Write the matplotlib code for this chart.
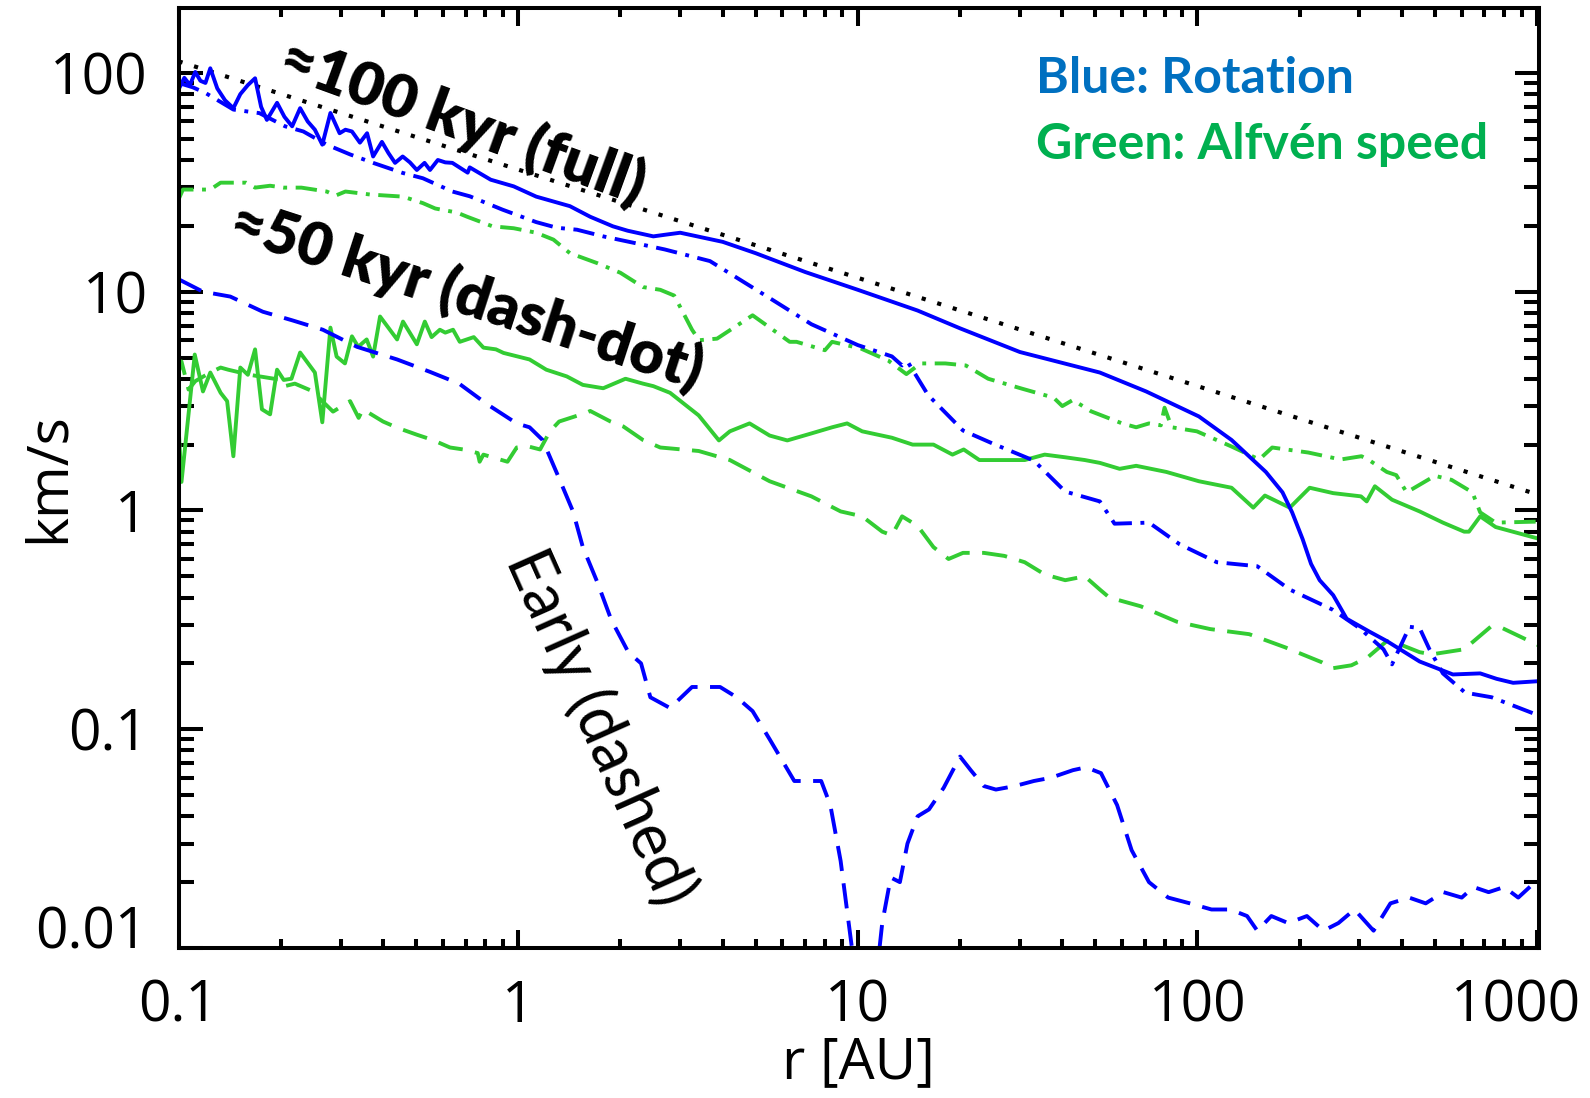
import matplotlib
matplotlib.use("Agg")
import matplotlib.pyplot as plt
from matplotlib.transforms import ScaledTranslation

# ---- data ----
dotted_r = [0.1, 1100]
dotted_v = [113, 1.13]

blue_full_r = [0.1, 0.104, 0.108, 0.112, 0.116, 0.12, 0.124, 0.13, 0.137, 0.145, 0.152, 0.16,
               0.168, 0.175, 0.182, 0.195, 0.205, 0.216, 0.228, 0.24, 0.252, 0.265, 0.28, 0.298,
               0.31, 0.324, 0.342, 0.359, 0.374, 0.397, 0.415, 0.434, 0.457, 0.48, 0.503, 0.53,
               0.55, 0.58, 0.61, 0.64, 0.71, 0.72, 0.83, 0.97, 1.13, 1.42, 1.63, 1.9, 2.1, 2.5,
               2.7, 3.0, 4.0, 5.0, 7.0, 10, 15, 20, 30, 51.6, 70.6, 101, 126, 159, 178, 190, 204,
               216, 229, 251, 275, 320, 361, 451, 565, 680, 760, 850, 1020]
blue_full_v = [84, 95, 88, 101, 92, 90, 105, 85, 75, 69, 80, 88, 94.5, 70, 61, 73, 63, 57, 69,
               60, 55, 47, 65.6, 53, 55, 54, 48, 53, 41.5, 48.4, 43, 38.8, 41.5, 39, 36, 38.8, 36,
               40, 39, 38.8, 35, 37, 32.5, 30.3, 27.2, 24.6, 22.0, 19.9, 19, 17.9, 18.2, 18.6,
               16.9, 15, 12.3, 10.2, 8.2, 6.8, 5.3, 4.27, 3.5, 2.69, 2.1, 1.5, 1.21, 0.98, 0.74,
               0.57, 0.48, 0.41, 0.32, 0.28, 0.253, 0.204, 0.178, 0.18, 0.17, 0.163, 0.166]

blue_mid_r = [0.1, 0.11, 0.12, 0.145, 0.173, 0.206, 0.233, 0.273, 0.32, 0.374, 0.457, 0.524,
              0.64, 0.72, 0.9, 1.13, 1.3, 1.49, 1.78, 2.2, 2.7, 3.67, 5.53, 7.3, 10, 12.6, 13.5,
              14.0, 16.1, 20.4, 25, 33, 40.8, 51.6, 57, 72, 88.7, 114, 150, 187, 250, 300, 353,
              374, 421, 451, 482, 528, 614, 735, 1020]
blue_mid_v = [90, 86, 81, 68, 65.5, 57, 54, 47, 42.4, 38.8, 34.9, 33, 28.7, 27.3, 23.7, 20.8,
              19.6, 19.2, 17.9, 16.7, 15.6, 13.8, 9.3, 7.1, 5.7, 5.06, 4.6, 4.8, 3.37, 2.32, 2.02,
              1.69, 1.22, 1.10, 0.87, 0.88, 0.70, 0.58, 0.556, 0.435, 0.352, 0.29, 0.232, 0.198,
              0.294, 0.29, 0.232, 0.18, 0.147, 0.14, 0.115]

blue_early_r = [0.1, 0.118, 0.142, 0.177, 0.216, 0.266, 0.335, 0.44, 0.55, 0.67, 0.81, 0.99,
                1.08, 1.18, 1.31, 1.45, 1.55, 1.71, 1.88, 2.11, 2.3, 2.45, 2.8, 3.25, 3.93, 4.4,
                4.9, 5.5, 6.5, 7.8, 8.3, 8.9, 9.4, 9.9, 11.3, 11.8, 12.5, 13.3, 14.0, 15.0, 16.2,
                17.9, 20.0, 21.5, 23.5, 25.5, 29, 33, 37, 43, 47, 52, 58, 64, 72, 82, 95, 110,
                125, 140, 150, 165, 185, 210, 235, 260, 290, 330, 370, 420, 470, 530, 600, 650,
                720, 800, 880, 1020]
blue_early_v = [11.4, 10, 9.5, 8.1, 7.4, 6.7, 5.6, 4.9, 4.3, 3.8, 3.06, 2.5, 2.4, 2.1, 1.44,
                0.99, 0.68, 0.47, 0.316, 0.225, 0.2, 0.14, 0.125, 0.156, 0.156, 0.14, 0.121,
                0.09, 0.058, 0.058, 0.045, 0.025, 0.013, 0.007, 0.007, 0.013, 0.021, 0.02, 0.03,
                0.04, 0.043, 0.054, 0.075, 0.065, 0.055, 0.053, 0.055, 0.058, 0.06, 0.065, 0.067,
                0.063, 0.045, 0.028, 0.02, 0.017, 0.016, 0.015, 0.015, 0.014, 0.012, 0.014,
                0.013, 0.014, 0.012, 0.013, 0.015, 0.012, 0.016, 0.017, 0.016, 0.018, 0.017,
                0.019, 0.018, 0.019, 0.017, 0.021]

green_full_r = [0.1, 0.102, 0.1116, 0.118, 0.124, 0.133, 0.139, 0.145, 0.152, 0.16, 0.168,
                0.176, 0.186, 0.195, 0.204, 0.215, 0.228, 0.252, 0.265, 0.28, 0.292, 0.309,
                0.324, 0.338, 0.358, 0.374, 0.392, 0.44, 0.458, 0.503, 0.531, 0.556, 0.588,
                0.61, 0.643, 0.673, 0.74, 0.79, 0.86, 0.905, 1.08, 1.21, 1.39, 1.55, 1.78, 2.07,
                2.33, 2.5, 2.8, 3.4, 3.9, 4.2, 4.8, 5.5, 6.2, 7.3, 8.4, 9.3, 10.3, 12.6, 14.5,
                16.7, 19, 20.5, 22.8, 27, 31, 35.5, 40.8, 46.6, 51.6, 59, 66, 81, 101, 126, 146,
                158, 187, 214, 251, 303, 315, 333, 374, 451, 528, 610, 630, 680, 755, 1020]
green_full_v = [2.42, 1.35, 5.16, 3.5, 4.27, 3.45, 3.16, 1.77, 4.5, 4.17, 5.45, 2.9, 2.75,
                4.4, 3.95, 4.0, 5.27, 4.27, 2.53, 6.85, 5.05, 4.7, 6.25, 5.6, 6.05, 5.05, 7.7,
                6.05, 7.3, 5.75, 7.3, 6.2, 6.7, 6.5, 6.7, 5.9, 6.2, 5.55, 5.45, 5.25, 4.9, 4.4,
                4.1, 3.75, 3.62, 4.0, 3.8, 3.7, 3.45, 2.72, 2.09, 2.3, 2.5, 2.2, 2.09, 2.25, 2.4,
                2.5, 2.3, 2.15, 2.0, 2.0, 1.8, 1.9, 1.7, 1.7, 1.7, 1.8, 1.75, 1.7, 1.65, 1.55,
                1.6, 1.5, 1.36, 1.27, 1.03, 1.17, 1.03, 1.27, 1.2, 1.16, 1.1, 1.29, 1.12, 0.99,
                0.88, 0.8, 0.8, 0.94, 0.84, 0.74]

green_mid_r = [0.1, 0.103, 0.124, 0.133, 0.158, 0.168, 0.186, 0.204, 0.23, 0.273, 0.29, 0.31,
               0.367, 0.458, 0.524, 0.57, 0.66, 0.708, 0.84, 0.97, 1.13, 1.27, 1.42, 1.71, 2.0,
               2.33, 2.62, 2.88, 3.25, 3.41, 3.85, 4.9, 6.3, 6.6, 8.0, 8.4, 10.2, 12.3, 13.9,
               15.3, 18.1, 20.8, 24.2, 30.5, 37.7, 40, 43, 48.6, 60, 66, 72, 78, 80, 84, 99.6,
               126, 152, 166, 212, 264, 304, 320, 361, 385, 413, 500, 560, 645, 680, 755, 1020]
green_mid_v = [26.4, 29.3, 29.3, 31.5, 31.5, 29.9, 30.5, 29.9, 29.9, 28.7, 27.5, 28.7, 27.8,
               27.2, 25.4, 24, 23, 22, 19.9, 19.5, 18.6, 17.3, 15, 13.5, 12.2, 10.5, 10.2, 9.6,
               6.7, 6.0, 6.1, 7.8, 5.9, 5.9, 5.4, 5.9, 5.5, 4.84, 4.2, 4.7, 4.7, 4.6, 4.0, 3.6,
               3.28, 3.0, 3.2, 2.84, 2.5, 2.4, 2.5, 2.45, 2.95, 2.4, 2.3, 1.96, 1.71, 1.94,
               1.84, 1.71, 1.77, 1.7, 1.5, 1.45, 1.21, 1.44, 1.38, 1.21, 0.98, 0.88, 0.89]

green_early_r = [0.1, 0.102, 0.107, 0.112, 0.124, 0.133, 0.14, 0.162, 0.199, 0.204, 0.22,
                 0.249, 0.265, 0.285, 0.32, 0.339, 0.349, 0.4, 0.44, 0.503, 0.56, 0.63, 0.69,
                 0.76, 0.77, 0.79, 0.93, 0.99, 1.06, 1.16, 1.24, 1.32, 1.59, 1.63, 1.87, 2.04,
                 2.33, 2.62, 3.4, 4.2, 5.5, 7.3, 8.9, 10.3, 11.8, 12.6, 13.5, 15, 16.7, 18.5,
                 20.4, 23.5, 27, 31, 35.5, 40.8, 46.6, 51.6, 55, 68, 87, 109, 142, 181, 233, 250,
                 284, 317, 361, 380, 451, 490, 610, 730, 790, 1020]
green_early_v = [4.27, 4.8, 3.57, 3.9, 4.27, 4.5, 4.4, 4.17, 3.96, 3.69, 3.8, 3.5, 3.16, 2.83,
                 3.16, 2.65, 2.9, 2.55, 2.39, 2.22, 2.1, 1.94, 1.9, 1.83, 1.67, 1.8, 1.67, 1.94,
                 1.97, 1.9, 2.3, 2.55, 2.8, 2.85, 2.55, 2.42, 2.1, 1.94, 1.87, 1.7, 1.36, 1.16,
                 0.99, 0.94, 0.8, 0.77, 0.94, 0.85, 0.68, 0.6, 0.64, 0.64, 0.62, 0.58, 0.51,
                 0.48, 0.5, 0.435, 0.40, 0.365, 0.31, 0.287, 0.272, 0.237, 0.202, 0.19, 0.196,
                 0.213, 0.253, 0.25, 0.225, 0.22, 0.232, 0.294, 0.29, 0.24]

x_ticks = [0.1, 1, 10, 100, 1000]
x_tick_labels = ["0.1", "1", "10", "100", "1000"]
y_ticks = [0.01, 0.1, 1, 10, 100]
y_tick_labels = ["0.01", "0.1", "1", "10", "100"]

BLUE = "#0000ff"
GREEN = "#33cc33"
LW = 2.8
DASHED = (0, (6.5, 3.2))
DASHDOT = (0, (5.5, 2.2, 1.0, 2.2))

fig = plt.figure(figsize=(15.9, 10.98), dpi=100)
ax = fig.add_axes([0.1123, 0.1366, 0.8558, 0.8561])

ax.plot(dotted_r, dotted_v, color="black", lw=3.0, linestyle=(0, (1.0, 2.9)))
ax.plot(green_early_r, green_early_v, color=GREEN, lw=LW, linestyle=DASHED)
ax.plot(green_mid_r, green_mid_v, color=GREEN, lw=LW, linestyle=DASHDOT)
ax.plot(green_full_r, green_full_v, color=GREEN, lw=LW)
ax.plot(blue_early_r, blue_early_v, color=BLUE, lw=LW, linestyle=DASHED)
ax.plot(blue_mid_r, blue_mid_v, color=BLUE, lw=LW, linestyle=DASHDOT)
ax.plot(blue_full_r, blue_full_v, color=BLUE, lw=LW)

ax.set_xscale("log")
ax.set_yscale("log")
ax.set_xlim(0.1, 1015)
ax.set_ylim(0.01, 198)

tick_font = {"family": ["Open Sans", "DejaVu Sans"], "size": 41}
ax.set_xticks(x_ticks)
ax.set_xticklabels(x_tick_labels, fontdict=tick_font)
ax.set_yticks(y_ticks)
ax.set_yticklabels(y_tick_labels, fontdict=tick_font)

for s in ax.spines.values():
    s.set_linewidth(2.9)
ax.tick_params(which="both", direction="in", top=True, right=True, width=2.9)
ax.tick_params(axis="x", which="major", length=13, pad=22)
ax.tick_params(axis="x", which="minor", length=6.5)
ax.tick_params(axis="y", which="major", length=17, pad=22)
ax.tick_params(axis="y", which="minor", length=10.5)

# lowest y label sits on the axis, last x label pulled inside the figure
ax.get_yticklabels()[0].set_va("baseline")
last = ax.get_xticklabels()[-1]
last.set_transform(last.get_transform() + ScaledTranslation(-0.21, 0, fig.dpi_scale_trans))

ax.text(0.5, -0.138, "r [AU]", transform=ax.transAxes, ha="center", va="baseline",
        **tick_font)
ax.text(-0.0842, 0.5, "km/s", transform=ax.transAxes, rotation=90, rotation_mode="anchor",
        ha="center", va="baseline", **tick_font)

note_font = ["Lato", "DejaVu Sans"]
ax.text(0.2086, 0.879, "\u2248100 kyr (full)", transform=ax.transAxes, rotation=-20,
        rotation_mode="anchor", ha="center", va="center", family=note_font,
        fontweight="heavy", fontsize=44)
ax.text(0.2116, 0.6936, "\u224850 kyr (dash-dot)", transform=ax.transAxes, rotation=-18,
        rotation_mode="anchor", ha="center", va="center", family=note_font,
        fontweight="heavy", fontsize=43)
ax.text(0.31, 0.235, "Early (dashed)", transform=ax.transAxes, rotation=-66,
        rotation_mode="anchor", ha="center", va="center", family=note_font,
        fontsize=45)

ax.text(0.630, 0.9245, "Blue: Rotation", transform=ax.transAxes, ha="left", va="center",
        color="#0070c0", family=note_font, fontweight="bold", fontsize=36)
ax.text(0.630, 0.855, "Green: Alfv\u00e9n speed", transform=ax.transAxes, ha="left",
        va="center", color="#00b050", family=note_font, fontweight="bold", fontsize=36)

fig.savefig("out.png", dpi=100)
